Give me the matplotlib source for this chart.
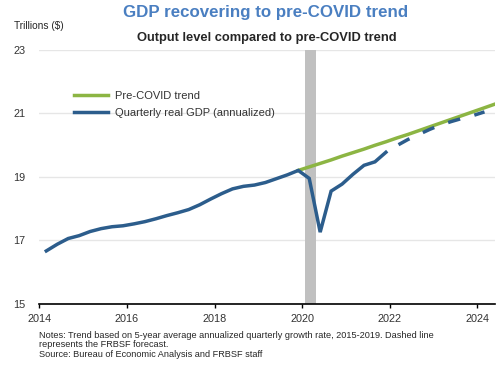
import matplotlib
matplotlib.use("Agg")
import matplotlib.pyplot as plt

plt.rcParams['font.family'] = ['Liberation Sans', 'DejaVu Sans']
plt.rcParams['lines.scale_dashes'] = False

# Colors
BLUE = '#2c5d8c'
GREEN = '#8cb543'
TITLE_BLUE = '#4a7fc1'
BAND_GRAY = '#c0c0c0'

# Quarterly real GDP (annualized, trillions $), actuals
gdp_quarters = [
    "2014Q1", "2014Q2", "2014Q3", "2014Q4",
    "2015Q1", "2015Q2", "2015Q3", "2015Q4",
    "2016Q1", "2016Q2", "2016Q3", "2016Q4",
    "2017Q1", "2017Q2", "2017Q3", "2017Q4",
    "2018Q1", "2018Q2", "2018Q3", "2018Q4",
    "2019Q1", "2019Q2", "2019Q3", "2019Q4",
    "2020Q1", "2020Q2", "2020Q3", "2020Q4",
    "2021Q1", "2021Q2", "2021Q3", "2021Q4",
]
gdp_values = [
    16.67, 16.88, 17.06, 17.15,
    17.28, 17.37, 17.43, 17.46,
    17.52, 17.59, 17.68, 17.78,
    17.87, 17.97, 18.12, 18.30,
    18.47, 18.62, 18.70, 18.74,
    18.82, 18.94, 19.06, 19.20,
    18.95, 17.26, 18.55, 18.77,
    19.08, 19.36, 19.47, 19.77,
]

# FRBSF forecast (dashed)
fcst_quarters = ["2021Q4", "2022Q1", "2022Q2", "2022Q3", "2022Q4",
                 "2023Q1", "2023Q2", "2023Q3", "2023Q4", "2024Q1"]
fcst_values = [19.77, 19.98, 20.17, 20.33, 20.49,
               20.63, 20.74, 20.84, 20.93, 21.04]

# Pre-COVID trend
trend_quarters = ["2019Q4", "2020Q1", "2020Q2", "2020Q3", "2020Q4",
                  "2021Q1", "2021Q2", "2021Q3", "2021Q4",
                  "2022Q1", "2022Q2", "2022Q3", "2022Q4",
                  "2023Q1", "2023Q2", "2023Q3", "2023Q4",
                  "2024Q1", "2024Q2", "2024Q3"]
trend_values = [19.20, 19.31, 19.42, 19.53, 19.65,
                19.76, 19.87, 19.99, 20.10,
                20.22, 20.33, 20.45, 20.57,
                20.69, 20.81, 20.93, 21.05,
                21.17, 21.29, 21.41]

# Recession band (decimal years)
recession = (2020.07, 2020.32)

y_ticks = [15, 17, 19, 21, 23]
x_ticks = [2014, 2016, 2018, 2020, 2022, 2024]


def qtr_to_year(q):
    # plot each quarter near its middle month
    return int(q[:4]) + (int(q[-1]) - 1) * 0.25 + 0.16


fig = plt.figure(figsize=(5, 3.65), dpi=100)
ax = fig.add_axes([0.0786, 0.167, 0.9114, 0.6973])

ax.axvspan(recession[0], recession[1], color=BAND_GRAY, lw=0, zorder=1)

ax.plot([qtr_to_year(q) for q in trend_quarters], trend_values,
        color=GREEN, lw=2.5, label='Pre-COVID trend', zorder=3)
ax.plot([qtr_to_year(q) for q in gdp_quarters], gdp_values,
        color=BLUE, lw=2.5, label='Quarterly real GDP (annualized)', zorder=4,
        solid_joinstyle='miter')
ax.plot([qtr_to_year(q) for q in fcst_quarters], fcst_values,
        color=BLUE, lw=2.5, ls=(9, (9, 10.6)), zorder=4)

ax.set_xlim(2014, 2024.4)
ax.set_ylim(15, 23)
ax.set_yticks(y_ticks)
ax.set_xticks(x_ticks)
ax.yaxis.grid(True, color='#e6e6e6', lw=1)
ax.set_axisbelow(True)

for s in ['top', 'left', 'right']:
    ax.spines[s].set_visible(False)
ax.spines['bottom'].set_color('black')
ax.spines['bottom'].set_linewidth(1.2)
ax.spines['bottom'].set_zorder(5)

ax.tick_params(axis='y', length=0, pad=10, labelsize=7.8, labelcolor='#333333')
ax.tick_params(axis='x', length=3, width=1, direction='out', pad=4.5,
               labelsize=7.8, labelcolor='#333333')

leg = ax.legend(loc='upper left', bbox_to_anchor=(0.148, 0.752),
                bbox_transform=fig.transFigure, frameon=False, fontsize=8,
                handlelength=3.1, handletextpad=0.6, labelspacing=0.68,
                borderpad=0, borderaxespad=0)
for t in leg.get_texts():
    t.set_color('#333333')

fig.text(0.532, 0.967, 'GDP recovering to pre-COVID trend', ha='center', va='center',
         fontsize=12.2, fontweight='bold', color=TITLE_BLUE)
fig.text(0.533, 0.896, 'Output level compared to pre-COVID trend', ha='center',
         va='center', fontsize=9.3, fontweight='bold', color='#262626')
fig.text(0.028, 0.929, 'Trillions ($)', ha='left', va='center', fontsize=7.3,
         color='#262626')

notes = ("Notes: Trend based on 5-year average annualized quarterly growth rate, 2015-2019. Dashed line\n"
         "represents the FRBSF forecast.\n"
         "Source: Bureau of Economic Analysis and FRBSF staff")
fig.text(0.0786, 0.093, notes, ha='left', va='top', fontsize=6.6,
         linespacing=1.05, color='#262626')

fig.savefig('out.png', dpi=100)
